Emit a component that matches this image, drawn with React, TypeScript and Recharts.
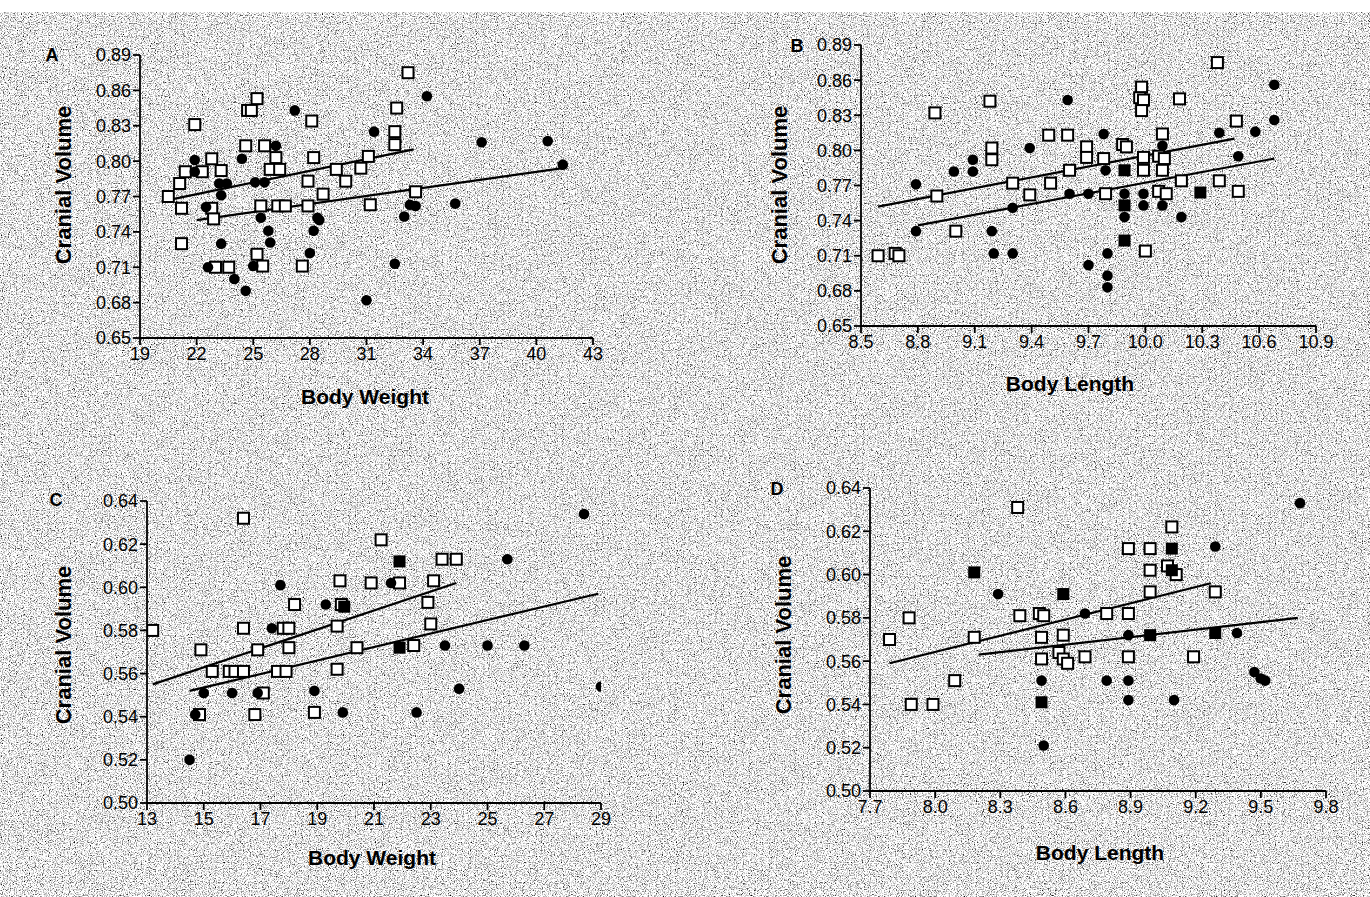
import React from 'react';
import { ScatterChart, Scatter, XAxis, YAxis, ReferenceLine } from 'recharts';

// ---------- Panel A: Cranial Volume vs Body Weight ----------
const aTicksX = [19, 22, 25, 28, 31, 34, 37, 40, 43];
const aTicksY = [0.65, 0.68, 0.71, 0.74, 0.77, 0.8, 0.83, 0.86, 0.89];
const aOpen = [
  [25.2, 0.853], [24.7, 0.843], [24.9, 0.843], [21.9, 0.831], [28.1, 0.834], [24.6, 0.813], [25.6, 0.813],
  [26.2, 0.803], [22.8, 0.802], [28.2, 0.803], [21.4, 0.791], [22.3, 0.791], [23.3, 0.792], [25.9, 0.793],
  [26.4, 0.793], [29.4, 0.793], [30.7, 0.794], [21.1, 0.781], [27.9, 0.783], [29.9, 0.783], [20.5, 0.77],
  [28.7, 0.772], [31.1, 0.804], [21.2, 0.76], [22.8, 0.76], [25.4, 0.762], [26.3, 0.762], [26.7, 0.762],
  [27.9, 0.762], [31.2, 0.763], [22.9, 0.751], [21.2, 0.73], [25.2, 0.721], [23.0, 0.71], [23.7, 0.71],
  [25.5, 0.711], [27.6, 0.711], [33.2, 0.875], [32.6, 0.845], [32.5, 0.825], [32.5, 0.814], [33.6, 0.774],
];
const aDots = [
  [27.2, 0.843], [26.2, 0.813], [21.9, 0.801], [24.4, 0.802], [21.9, 0.791], [23.2, 0.781], [23.6, 0.781],
  [25.1, 0.782], [25.6, 0.782], [23.3, 0.771], [22.5, 0.761], [25.4, 0.752], [28.4, 0.752], [28.5, 0.75],
  [25.8, 0.741], [28.2, 0.741], [23.3, 0.73], [25.9, 0.731], [28.0, 0.722], [22.6, 0.71], [25.0, 0.711],
  [24.0, 0.7], [24.6, 0.69], [31.0, 0.682], [34.2, 0.855], [31.4, 0.825], [37.1, 0.816], [40.6, 0.817],
  [41.4, 0.797], [33.3, 0.763], [33.6, 0.762], [35.7, 0.764], [33.0, 0.753], [32.5, 0.713],
];
const aSolid: number[][] = [];
const aFitOpen = [[20.8, 0.768], [33.5, 0.81]];
const aFitDots = [[22.0, 0.75], [41.4, 0.794]];

// ---------- Panel B: Cranial Volume vs Body Length ----------
const bTicksX = [8.5, 8.8, 9.1, 9.4, 9.7, 10.0, 10.3, 10.6, 10.9];
const bTicksY = [0.65, 0.68, 0.71, 0.74, 0.77, 0.8, 0.83, 0.86, 0.89];
const bOpen = [
  [9.18, 0.842], [8.89, 0.832], [9.49, 0.813], [9.59, 0.813], [9.19, 0.802], [9.19, 0.792], [9.69, 0.803],
  [9.69, 0.794], [9.6, 0.783], [9.3, 0.772], [9.5, 0.772], [8.9, 0.761], [9.39, 0.762], [9.0, 0.731],
  [8.59, 0.71], [8.68, 0.712], [8.7, 0.71], [10.38, 0.875], [9.98, 0.854], [9.97, 0.845], [9.99, 0.843],
  [9.98, 0.834], [10.18, 0.844], [10.48, 0.825], [10.09, 0.814], [9.88, 0.805], [9.9, 0.803], [9.78, 0.793],
  [9.99, 0.794], [10.07, 0.795], [10.1, 0.793], [9.99, 0.783], [10.09, 0.783], [10.19, 0.774], [10.39, 0.774],
  [9.79, 0.763], [10.07, 0.765], [10.11, 0.763], [10.49, 0.765], [10.0, 0.714],
];
const bDots = [
  [9.59, 0.843], [9.39, 0.802], [9.09, 0.792], [8.99, 0.782], [9.09, 0.782], [8.79, 0.771], [9.6, 0.763],
  [9.7, 0.763], [9.3, 0.751], [8.79, 0.731], [9.19, 0.731], [9.2, 0.712], [9.3, 0.712], [9.7, 0.702],
  [10.68, 0.856], [10.68, 0.826], [9.78, 0.814], [10.39, 0.815], [10.58, 0.816], [10.09, 0.804], [10.49, 0.795],
  [9.79, 0.783], [9.89, 0.763], [9.99, 0.763], [9.99, 0.753], [10.09, 0.753], [9.89, 0.743], [10.19, 0.743],
  [9.8, 0.712], [9.8, 0.693], [9.8, 0.683],
];
const bSolid = [[9.89, 0.783], [10.29, 0.764], [9.89, 0.753], [9.89, 0.723]];
const bFitOpen = [[8.59, 0.752], [10.47, 0.81]];
const bFitDots = [[8.8, 0.736], [10.68, 0.793]];

// ---------- Panel C: Cranial Volume vs Body Weight ----------
const cTicksX = [13, 15, 17, 19, 21, 23, 25, 27, 29];
const cTicksY = [0.5, 0.52, 0.54, 0.56, 0.58, 0.6, 0.62, 0.64];
const cOpen = [
  [16.4, 0.632], [19.8, 0.603], [19.85, 0.592], [18.2, 0.592], [13.2, 0.58], [16.4, 0.581], [17.8, 0.581],
  [18.0, 0.581], [19.7, 0.582], [14.9, 0.571], [16.9, 0.571], [18.0, 0.572], [20.4, 0.572], [15.3, 0.561],
  [15.9, 0.561], [16.1, 0.561], [16.4, 0.561], [17.6, 0.561], [17.9, 0.561], [19.7, 0.562], [17.1, 0.551],
  [14.85, 0.541], [16.8, 0.541], [18.9, 0.542], [21.25, 0.622], [23.4, 0.613], [23.9, 0.613], [20.9, 0.602],
  [21.9, 0.602], [23.1, 0.603], [22.9, 0.593], [23.0, 0.583], [22.4, 0.573],
];
const cDots = [
  [17.7, 0.601], [19.3, 0.592], [17.4, 0.581], [15.0, 0.551], [16.0, 0.551], [16.9, 0.551], [18.9, 0.552],
  [14.7, 0.541], [19.9, 0.542], [14.5, 0.52], [28.4, 0.634], [25.7, 0.613], [21.6, 0.602], [23.5, 0.573],
  [25.0, 0.573], [26.3, 0.573], [24.0, 0.553], [29.0, 0.554], [22.5, 0.542],
];
const cSolid = [[19.95, 0.591], [21.9, 0.612], [21.9, 0.572]];
const cFitOpen = [[13.2, 0.555], [23.9, 0.602]];
const cFitDots = [[14.5, 0.552], [28.9, 0.597]];

// ---------- Panel D: Cranial Volume vs Body Length ----------
const dTicksX = [7.7, 8.0, 8.3, 8.6, 8.9, 9.2, 9.5, 9.8];
const dTicksY = [0.5, 0.52, 0.54, 0.56, 0.58, 0.6, 0.62, 0.64];
const dOpen = [
  [8.38, 0.631], [7.88, 0.58], [8.39, 0.581], [8.48, 0.582], [8.5, 0.581], [7.79, 0.57], [8.18, 0.571],
  [8.49, 0.571], [8.59, 0.572], [8.49, 0.561], [8.57, 0.564], [8.59, 0.561], [8.61, 0.559], [8.69, 0.562],
  [8.09, 0.551], [7.89, 0.54], [7.99, 0.54], [9.09, 0.622], [8.89, 0.612], [8.99, 0.612], [8.99, 0.602],
  [9.07, 0.604], [9.11, 0.6], [8.99, 0.592], [9.29, 0.592], [8.79, 0.582], [8.89, 0.582], [8.89, 0.562],
  [9.19, 0.562],
];
const dDots = [
  [8.29, 0.591], [8.69, 0.582], [8.49, 0.551], [8.5, 0.521], [9.68, 0.633], [9.29, 0.613], [8.89, 0.572],
  [9.39, 0.573], [8.79, 0.551], [8.89, 0.551], [9.47, 0.555], [9.5, 0.552], [9.52, 0.551], [8.89, 0.542],
  [9.1, 0.542],
];
const dSolid = [[8.18, 0.601], [8.59, 0.591], [8.49, 0.541], [9.09, 0.612], [9.09, 0.602], [8.99, 0.572], [9.29, 0.573]];
const dFitOpen = [[7.79, 0.559], [9.27, 0.596]];
const dFitDots = [[8.2, 0.563], [9.67, 0.58]];

const FONT = '"Liberation Sans", Arial, Helvetica, sans-serif';

const toPts = (a: number[][]) => a.map(([x, y]) => ({ x, y }));

const OpenSquare = (p: any) => (
  <rect x={p.cx - 5.5} y={p.cy - 5.5} width={11} height={11} fill="#fff" stroke="#000" strokeWidth={2} />
);
const SolidSquare = (p: any) => (
  <rect x={p.cx - 6} y={p.cy - 6} width={12} height={12} fill="#000" />
);
const Dot = (p: any) => <circle cx={p.cx} cy={p.cy} r={5.3} fill="#000" />;

type PanelProps = {
  x0: number; x1: number; y0: number; y1: number;
  xTicks: number[]; yTicks: number[]; xDec: number;
  open: number[][]; dots: number[][]; solid: number[][];
  fitOpen: number[][]; fitDots: number[][];
};

const Panel = (p: PanelProps) => {
  const padL = 100, padT = 20, padR = 30, padB = 60;
  const w = p.x1 - p.x0 + padL + padR;
  const h = p.y1 - p.y0 + padT + padB;
  const axisStyle = { stroke: '#000', strokeWidth: 1.8 };
  const tickStyle = { fill: '#000', fontSize: 18, fontFamily: FONT };
  return (
    <div style={{ position: 'absolute', left: p.x0 - padL, top: p.y0 - padT }}>
      <ScatterChart width={w} height={h} margin={{ top: padT, right: padR, bottom: 0, left: 0 }}>
        <XAxis
          type="number" dataKey="x" domain={[p.xTicks[0], p.xTicks[p.xTicks.length - 1]]}
          ticks={p.xTicks} interval={0} height={padB} allowDataOverflow
          tickFormatter={(v: number) => v.toFixed(p.xDec)}
          axisLine={axisStyle} tickLine={axisStyle} tick={tickStyle} tickSize={7}
        />
        <YAxis
          type="number" dataKey="y" domain={[p.yTicks[0], p.yTicks[p.yTicks.length - 1]]}
          ticks={p.yTicks} interval={0} width={padL} allowDataOverflow
          tickFormatter={(v: number) => v.toFixed(2)}
          axisLine={axisStyle} tickLine={axisStyle} tick={tickStyle} tickSize={7}
        />
        <ReferenceLine
          segment={toPts(p.fitOpen)} stroke="#000" strokeWidth={2.2} ifOverflow="visible"
        />
        <ReferenceLine
          segment={toPts(p.fitDots)} stroke="#000" strokeWidth={2.2} ifOverflow="visible"
        />
        <Scatter data={toPts(p.open)} shape={OpenSquare} isAnimationActive={false} />
        <Scatter data={toPts(p.dots)} shape={Dot} isAnimationActive={false} />
        <Scatter data={toPts(p.solid)} shape={SolidSquare} isAnimationActive={false} />
      </ScatterChart>
    </div>
  );
};

const Txt = ({ x, y, text, size, rotate }: { x: number; y: number; text: string; size: number; rotate?: boolean }) => (
  <div
    style={{
      position: 'absolute', left: x, top: y, whiteSpace: 'nowrap',
      transform: `translate(-50%, -50%)${rotate ? ' rotate(-90deg)' : ''}`,
      fontFamily: FONT, fontWeight: 'bold', fontSize: size, color: '#000', lineHeight: 1,
    }}
  >
    {text}
  </div>
);

export default function App() {
  return (
    <div style={{ position: 'absolute', left: 0, top: 0, width: 1370, height: 897, overflow: 'hidden', background: '#fff' }}>
      <svg width={1370} height={897} style={{ position: 'absolute', left: 0, top: 0 }}>
        <filter id="speckle" x="0" y="0" width="100%" height="100%" colorInterpolationFilters="sRGB">
          <feTurbulence type="fractalNoise" baseFrequency="0.85" numOctaves="2" seed="7" />
          <feColorMatrix type="matrix" values="0.33 0.33 0.33 0 0  0.33 0.33 0.33 0 0  0.33 0.33 0.33 0 0  0 0 0 0 1" />
          <feComponentTransfer>
            <feFuncR type="linear" slope="4" intercept="-1.05" />
            <feFuncG type="linear" slope="4" intercept="-1.05" />
            <feFuncB type="linear" slope="4" intercept="-1.05" />
          </feComponentTransfer>
        </filter>
        <rect x={0} y={12} width={1370} height={885} filter="url(#speckle)" />
      </svg>

      <Panel x0={140} x1={593} y0={55} y1={338} xTicks={aTicksX} yTicks={aTicksY} xDec={0}
        open={aOpen} dots={aDots} solid={aSolid} fitOpen={aFitOpen} fitDots={aFitDots} />
      <Panel x0={861} x1={1316} y0={45} y1={326} xTicks={bTicksX} yTicks={bTicksY} xDec={1}
        open={bOpen} dots={bDots} solid={bSolid} fitOpen={bFitOpen} fitDots={bFitDots} />
      <Panel x0={147} x1={601} y0={501} y1={803} xTicks={cTicksX} yTicks={cTicksY} xDec={0}
        open={cOpen} dots={cDots} solid={cSolid} fitOpen={cFitOpen} fitDots={cFitDots} />
      <Panel x0={870} x1={1326} y0={488} y1={791} xTicks={dTicksX} yTicks={dTicksY} xDec={1}
        open={dOpen} dots={dDots} solid={dSolid} fitOpen={dFitOpen} fitDots={dFitDots} />

      <Txt x={52} y={55} text="A" size={18} />
      <Txt x={64} y={185} text="Cranial Volume" size={22} rotate />
      <Txt x={365} y={396} text="Body Weight" size={21} />

      <Txt x={797} y={46} text="B" size={18} />
      <Txt x={780} y={185} text="Cranial Volume" size={22} rotate />
      <Txt x={1070} y={383} text="Body Length" size={21} />

      <Txt x={56} y={500} text="C" size={18} />
      <Txt x={64} y={645} text="Cranial Volume" size={22} rotate />
      <Txt x={372} y={857} text="Body Weight" size={21} />

      <Txt x={777} y={489} text="D" size={18} />
      <Txt x={784} y={635} text="Cranial Volume" size={22} rotate />
      <Txt x={1100} y={852} text="Body Length" size={21} />
    </div>
  );
}
